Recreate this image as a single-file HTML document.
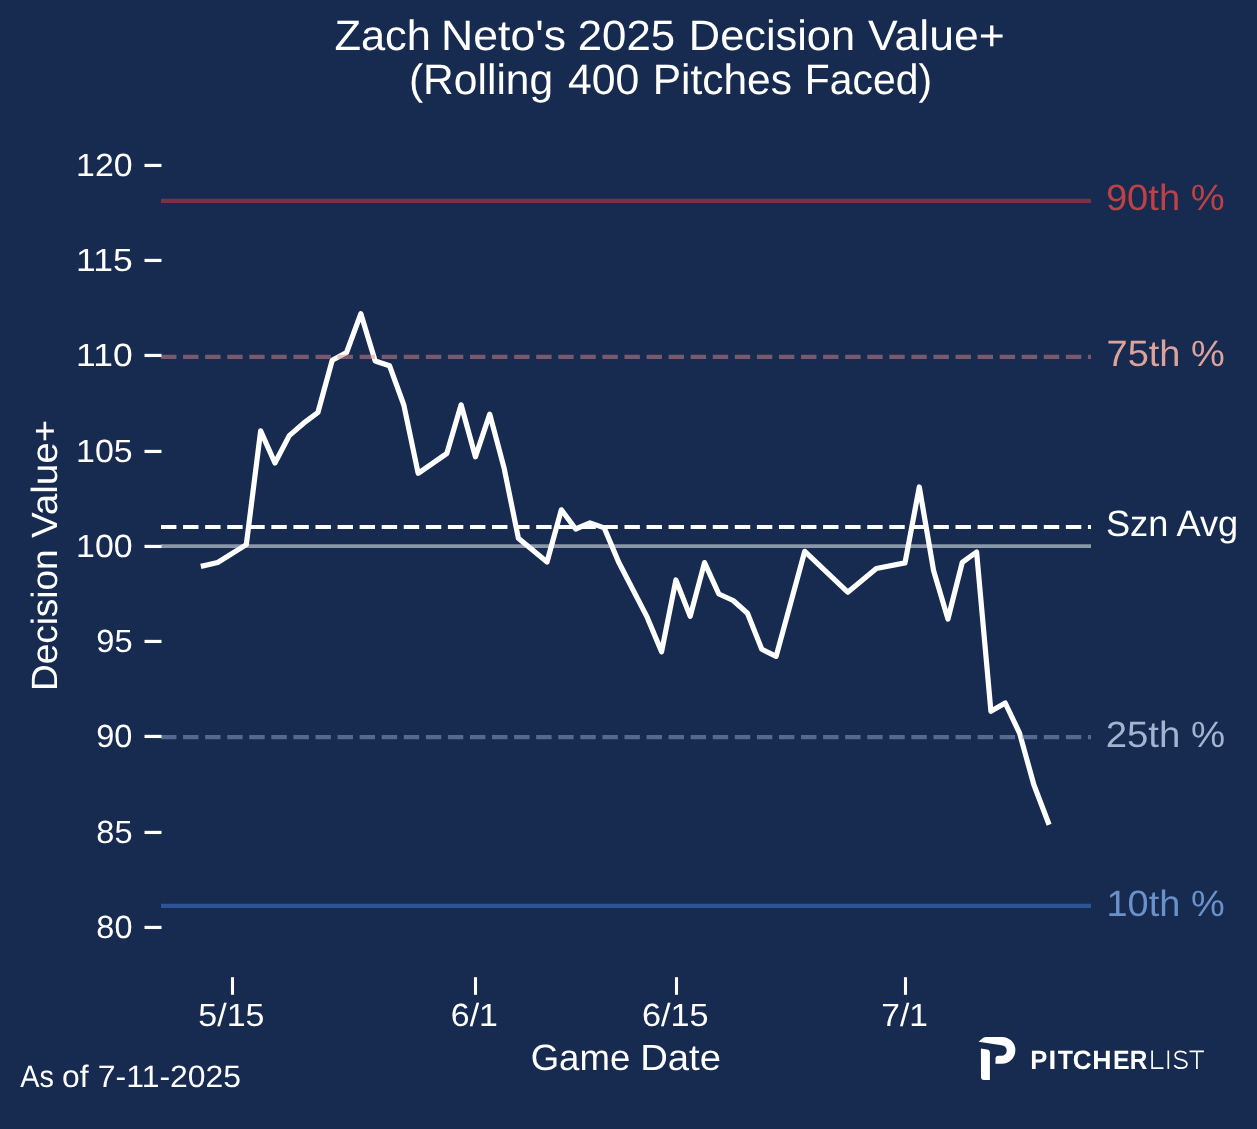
<!DOCTYPE html>
<html><head><meta charset="utf-8"><style>
html,body{margin:0;padding:0;background:#172a50;}
body{width:1257px;height:1129px;overflow:hidden;}
svg{display:block;font-family:"Liberation Sans", sans-serif;}
svg{will-change:transform;}
text{text-rendering:geometricPrecision;}
</style></head><body>
<svg width="1257" height="1129" viewBox="0 0 1257 1129">
<rect x="0" y="0" width="1257" height="1129" fill="#172a50"/>
<line x1="161.0" y1="546.1" x2="1091.0" y2="546.1" stroke="#8b97a8" stroke-width="3.8"/>
<line x1="161.0" y1="527.0" x2="1091.0" y2="527.0" stroke="#ffffff" stroke-width="4.17" stroke-dasharray="15.41 6.66"/>
<path d="M203.36,565.80 L217.68,562.50 L246.32,544.60 L260.64,430.90 L274.96,463.00 L289.28,435.60 L303.60,423.20 L317.91,412.50 L332.23,360.20 L346.55,352.50 L360.87,313.70 L375.19,361.00 L389.51,365.70 L403.83,405.00 L418.15,473.30 L446.79,453.50 L461.10,404.80 L475.42,456.80 L489.74,414.10 L504.06,467.80 L518.38,538.20 L547.02,562.00 L561.34,509.80 L575.66,529.00 L589.98,522.90 L604.29,527.90 L618.61,562.00 L647.25,617.40 L661.57,651.80 L675.89,580.00 L690.21,616.40 L704.53,562.60 L718.85,594.00 L733.16,600.50 L747.48,613.30 L761.80,649.20 L776.12,656.40 L804.76,551.30 L847.72,592.20 L876.36,568.50 L904.99,562.90 L919.31,487.00 L933.63,570.70 L947.95,619.00 L962.27,562.30 L976.59,552.00 L990.91,711.30 L1005.23,703.00 L1019.55,733.10 L1033.86,784.80 L1048.18,822.30" fill="none" stroke="#ffffff" stroke-width="5.2" stroke-linejoin="round" stroke-linecap="square"/>
<line x1="161.0" y1="200.9" x2="1091.0" y2="200.9" stroke="#733546" stroke-width="4.17"/>
<line x1="161.0" y1="356.9" x2="1091.0" y2="356.9" stroke="#d88a87" stroke-opacity="0.5" stroke-width="4.17" stroke-dasharray="15.41 6.66"/>
<line x1="161.0" y1="737.1" x2="1091.0" y2="737.1" stroke="#94a8cd" stroke-opacity="0.5" stroke-width="4.17" stroke-dasharray="15.41 6.66"/>
<line x1="161.0" y1="905.9" x2="1091.0" y2="905.9" stroke="#2a5696" stroke-width="4.17"/>
<line x1="144.5" y1="927.44" x2="161.5" y2="927.44" stroke="#ffffff" stroke-width="3.2"/>
<text x="96.39" y="937.94" font-size="32.12" font-weight="normal" textLength="36.08" lengthAdjust="spacingAndGlyphs" fill="#ffffff">80</text>
<line x1="144.5" y1="832.44" x2="161.5" y2="832.44" stroke="#ffffff" stroke-width="3.2"/>
<text x="96.39" y="842.69" font-size="32.12" font-weight="normal" textLength="36.18" lengthAdjust="spacingAndGlyphs" fill="#ffffff">85</text>
<line x1="144.5" y1="736.44" x2="161.5" y2="736.44" stroke="#ffffff" stroke-width="3.2"/>
<text x="96.27" y="747.44" font-size="32.12" font-weight="normal" textLength="36.20" lengthAdjust="spacingAndGlyphs" fill="#ffffff">90</text>
<line x1="144.5" y1="641.44" x2="161.5" y2="641.44" stroke="#ffffff" stroke-width="3.2"/>
<text x="96.27" y="652.19" font-size="32.12" font-weight="normal" textLength="36.30" lengthAdjust="spacingAndGlyphs" fill="#ffffff">95</text>
<line x1="144.5" y1="546.44" x2="161.5" y2="546.44" stroke="#ffffff" stroke-width="3.2"/>
<text x="76.12" y="556.94" font-size="32.12" font-weight="normal" textLength="56.50" lengthAdjust="spacingAndGlyphs" fill="#ffffff">100</text>
<line x1="144.5" y1="451.44" x2="161.5" y2="451.44" stroke="#ffffff" stroke-width="3.2"/>
<text x="76.12" y="461.69" font-size="32.12" font-weight="normal" textLength="56.61" lengthAdjust="spacingAndGlyphs" fill="#ffffff">105</text>
<line x1="144.5" y1="355.44" x2="161.5" y2="355.44" stroke="#ffffff" stroke-width="3.2"/>
<text x="76.12" y="366.44" font-size="32.12" font-weight="normal" textLength="56.50" lengthAdjust="spacingAndGlyphs" fill="#ffffff">110</text>
<line x1="144.5" y1="260.44" x2="161.5" y2="260.44" stroke="#ffffff" stroke-width="3.2"/>
<text x="76.12" y="271.19" font-size="32.12" font-weight="normal" textLength="56.61" lengthAdjust="spacingAndGlyphs" fill="#ffffff">115</text>
<line x1="144.5" y1="165.44" x2="161.5" y2="165.44" stroke="#ffffff" stroke-width="3.2"/>
<text x="76.12" y="175.94" font-size="32.12" font-weight="normal" textLength="56.50" lengthAdjust="spacingAndGlyphs" fill="#ffffff">120</text>
<line x1="232.50" y1="977.2" x2="232.50" y2="994.8" stroke="#ffffff" stroke-width="3.1"/>
<text x="198.34" y="1026.20" font-size="32.12" font-weight="normal" textLength="66.09" lengthAdjust="spacingAndGlyphs" fill="#ffffff">5/15</text>
<line x1="475.50" y1="977.2" x2="475.50" y2="994.8" stroke="#ffffff" stroke-width="3.1"/>
<text x="450.88" y="1026.20" font-size="32.12" font-weight="normal" textLength="47.07" lengthAdjust="spacingAndGlyphs" fill="#ffffff">6/1</text>
<line x1="676.50" y1="977.2" x2="676.50" y2="994.8" stroke="#ffffff" stroke-width="3.1"/>
<text x="641.96" y="1026.20" font-size="32.12" font-weight="normal" textLength="66.68" lengthAdjust="spacingAndGlyphs" fill="#ffffff">6/15</text>
<line x1="905.50" y1="977.2" x2="905.50" y2="994.8" stroke="#ffffff" stroke-width="3.1"/>
<text x="881.38" y="1026.20" font-size="32.12" font-weight="normal" textLength="46.55" lengthAdjust="spacingAndGlyphs" fill="#ffffff">7/1</text>
<text x="334.42" y="50.00" font-size="42.44" font-weight="normal" textLength="96.60" lengthAdjust="spacingAndGlyphs" fill="#ffffff">Zach</text>
<text x="441.04" y="50.00" font-size="42.44" font-weight="normal" textLength="124.97" lengthAdjust="spacingAndGlyphs" fill="#ffffff">Neto's</text>
<text x="577.70" y="50.00" font-size="42.44" font-weight="normal" textLength="97.44" lengthAdjust="spacingAndGlyphs" fill="#ffffff">2025</text>
<text x="688.84" y="50.00" font-size="42.44" font-weight="normal" textLength="166.27" lengthAdjust="spacingAndGlyphs" fill="#ffffff">Decision</text>
<text x="868.11" y="50.00" font-size="42.44" font-weight="normal" textLength="136.53" lengthAdjust="spacingAndGlyphs" fill="#ffffff">Value+</text>
<text x="408.96" y="94.00" font-size="42.44" font-weight="normal" textLength="144.18" lengthAdjust="spacingAndGlyphs" fill="#ffffff">(Rolling</text>
<text x="567.92" y="94.00" font-size="42.44" font-weight="normal" textLength="71.35" lengthAdjust="spacingAndGlyphs" fill="#ffffff">400</text>
<text x="652.72" y="94.00" font-size="42.44" font-weight="normal" textLength="139.22" lengthAdjust="spacingAndGlyphs" fill="#ffffff">Pitches</text>
<text x="804.85" y="94.00" font-size="42.44" font-weight="normal" textLength="127.19" lengthAdjust="spacingAndGlyphs" fill="#ffffff">Faced)</text>
<text x="530.66" y="1070.10" font-size="36.41" font-weight="normal" textLength="99.56" lengthAdjust="spacingAndGlyphs" fill="#ffffff">Game</text>
<text x="640.16" y="1070.10" font-size="36.41" font-weight="normal" textLength="80.84" lengthAdjust="spacingAndGlyphs" fill="#ffffff">Date</text>
<g transform="translate(57.0,1109.6) rotate(-90)"><text x="418.57" y="0.00" font-size="36.48" font-weight="normal" textLength="141.63" lengthAdjust="spacingAndGlyphs" fill="#ffffff">Decision</text><text x="571.53" y="0.00" font-size="36.48" font-weight="normal" textLength="118.32" lengthAdjust="spacingAndGlyphs" fill="#ffffff">Value+</text></g>
<text x="1105.91" y="210.40" font-size="36.56" font-weight="normal" textLength="118.75" lengthAdjust="spacingAndGlyphs" fill="#bd4246">90th %</text>
<text x="1106.55" y="366.10" font-size="36.56" font-weight="normal" textLength="118.20" lengthAdjust="spacingAndGlyphs" fill="#dca39d">75th %</text>
<text x="1105.89" y="536.20" font-size="36.56" font-weight="normal" textLength="132.30" lengthAdjust="spacingAndGlyphs" fill="#ffffff">Szn Avg</text>
<text x="1105.67" y="746.70" font-size="36.56" font-weight="normal" textLength="119.50" lengthAdjust="spacingAndGlyphs" fill="#a3b4d0">25th %</text>
<text x="1106.51" y="916.10" font-size="36.56" font-weight="normal" textLength="118.14" lengthAdjust="spacingAndGlyphs" fill="#6a92c8">10th %</text>
<text x="20.24" y="1087.00" font-size="30.96" font-weight="normal" textLength="33.60" lengthAdjust="spacingAndGlyphs" fill="#ffffff">As</text>
<text x="61.96" y="1087.00" font-size="30.96" font-weight="normal" textLength="26.59" lengthAdjust="spacingAndGlyphs" fill="#ffffff">of</text>
<text x="97.89" y="1087.00" font-size="30.96" font-weight="normal" textLength="143.13" lengthAdjust="spacingAndGlyphs" fill="#ffffff">7-11-2025</text>
<path d="M978.5,1041.7 L983.3,1037.8 Q984.5,1036.9 986.5,1036.9 L1002,1036.9 A13.4,13.4 0 0 1 1002,1063.7 L995.5,1063.7 L995.5,1058.6 Q995.5,1055.8 998.5,1055.8 L1001.5,1055.8 A5.25,5.25 0 0 0 1001.5,1045.3 Z" fill="#ffffff"/>
<path d="M980.9,1048.6 L987,1049.4 Q989.9,1049.8 989.9,1052.6 L989.9,1080 L984,1080 Q981,1080 981,1077 Z" fill="#ffffff"/>
<text x="1030.29" y="1069.00" font-size="26.60" font-weight="bold" textLength="17.09" lengthAdjust="spacingAndGlyphs" fill="#ffffff">P</text>
<text x="1048.44" y="1069.00" font-size="26.60" font-weight="bold" textLength="7.72" lengthAdjust="spacingAndGlyphs" fill="#ffffff">I</text>
<text x="1057.72" y="1069.00" font-size="26.60" font-weight="bold" textLength="15.25" lengthAdjust="spacingAndGlyphs" fill="#ffffff">T</text>
<text x="1072.83" y="1069.00" font-size="26.60" font-weight="bold" textLength="18.89" lengthAdjust="spacingAndGlyphs" fill="#ffffff">C</text>
<text x="1092.21" y="1069.00" font-size="26.60" font-weight="bold" textLength="19.29" lengthAdjust="spacingAndGlyphs" fill="#ffffff">H</text>
<text x="1112.93" y="1069.00" font-size="26.60" font-weight="bold" textLength="16.64" lengthAdjust="spacingAndGlyphs" fill="#ffffff">E</text>
<text x="1129.67" y="1069.00" font-size="26.60" font-weight="bold" textLength="17.63" lengthAdjust="spacingAndGlyphs" fill="#ffffff">R</text>
<g fill="none" stroke="#ffffff" stroke-width="1.7"><path d="M1152.1,1050.5 L1152.1,1068.1 L1163.5,1068.1"/><path d="M1168.3,1050.5 L1168.3,1068.9"/><path d="M1186.3,1053.6 C1185,1052 1183,1051.3 1180.6,1051.3 C1177.2,1051.3 1175.2,1053.2 1175.2,1055.4 C1175.2,1058.2 1177.8,1059 1180.8,1059.6 C1184.3,1060.3 1186.9,1061.3 1186.9,1064.1 C1186.9,1066.6 1184.6,1068.2 1180.9,1068.2 C1178,1068.2 1175.6,1067 1174.3,1065.2"/><path d="M1189.5,1051.3 L1203.9,1051.3 M1196.9,1051.3 L1196.9,1068.9"/></g>
</svg></body></html>
